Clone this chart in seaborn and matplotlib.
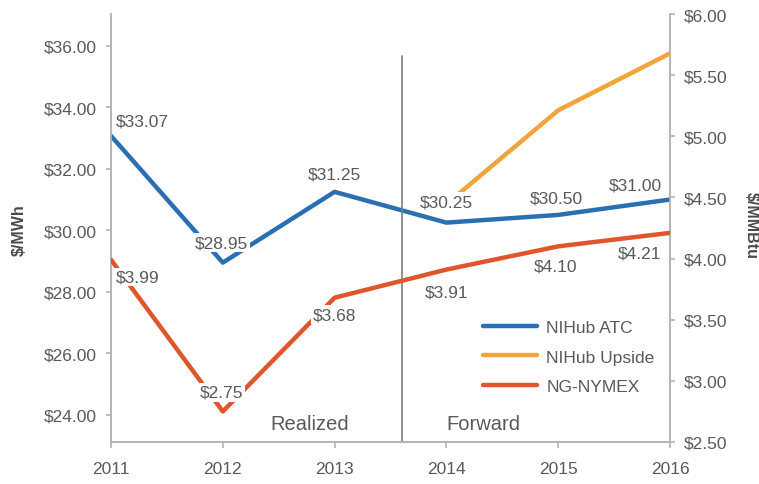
import numpy as np
import pandas as pd
import matplotlib
matplotlib.use("Agg")
import matplotlib.pyplot as plt
from matplotlib.lines import Line2D
import seaborn as sns

# ================================
# DATA
# ================================
years = [2011, 2012, 2013, 2014, 2015, 2016]
atc = [33.07, 28.95, 31.25, 30.25, 30.50, 31.00]
upside_years = [2014, 2015, 2016]
upside = [30.85, 33.90, 35.75]
nymex = [3.99, 2.75, 3.68, 3.91, 4.10, 4.21]

atc_labels = ["$33.07", "$28.95", "$31.25", "$30.25", "$30.50", "$31.00"]
nymex_labels = ["$3.99", "$2.75", "$3.68", "$3.91", "$4.10", "$4.21"]

left_ticks = [24, 26, 28, 30, 32, 34, 36]
right_ticks = [2.5, 3.0, 3.5, 4.0, 4.5, 5.0, 5.5, 6.0]

BLUE = "#2a6fb2"
ORANGE = "#f0a43c"
RED = "#e0552b"
GREY = "#595959"
AXIS = "#b4b4b4"

# ================================
# STYLE
# ================================
sns.set_style("white")
plt.rcParams["font.family"] = ["Liberation Sans", "DejaVu Sans"]
plt.rcParams["font.size"] = 12.5

fig = plt.figure(figsize=(7.59, 4.85), dpi=100)
ax = fig.add_axes([111 / 759, 42 / 485, 559 / 759, 428 / 485])

df_atc = pd.DataFrame({"year": years, "value": atc})
df_up = pd.DataFrame({"year": upside_years, "value": upside})
df_ng = pd.DataFrame({"year": years, "value": nymex})

sns.lineplot(data=df_atc, x="year", y="value", ax=ax, color=BLUE, lw=3.2, zorder=3)
sns.lineplot(data=df_up, x="year", y="value", ax=ax, color=ORANGE, lw=3.2, zorder=2)
ax2 = ax.twinx()
sns.lineplot(data=df_ng, x="year", y="value", ax=ax2, color=RED, lw=3.2, zorder=3)

ax.set_xlim(2011, 2016)
ax.set_ylim(23.12, 37.03)
ax2.set_ylim(2.5, 6.0)

ax.set_xticks(years)
ax.set_xticklabels([str(y) for y in years])
ax.set_yticks(left_ticks)
ax.set_yticklabels([f"${t:.2f}" for t in left_ticks])
ax2.set_yticks(right_ticks)
ax2.set_yticklabels([f"${t:.2f}" for t in right_ticks])

for a in (ax, ax2):
    for s in a.spines.values():
        s.set_color(AXIS)
        s.set_linewidth(1.2)
    a.spines["top"].set_visible(False)
    a.set_xlabel("")
    a.set_ylabel("")
ax.tick_params(axis="x", length=0, labelcolor=GREY, labelsize=12.5, pad=14)
ax.tick_params(axis="y", length=0, labelcolor=GREY, labelsize=12.5, pad=10)
ax2.tick_params(axis="y", length=0, labelcolor=GREY, labelsize=12.5, pad=10)

# small outward tick marks drawn along the spines
tick_kw = dict(color=AXIS, lw=1.2, clip_on=False, zorder=0)
ax.vlines(years, -6 / 428, 0, transform=ax.get_xaxis_transform(), **tick_kw)
ax.hlines(left_ticks, -5 / 559, 0, transform=ax.get_yaxis_transform(), **tick_kw)
ax2.hlines(right_ticks, 1, 1 + 5 / 559, transform=ax2.get_yaxis_transform(), **tick_kw)

# labels with white boxes
bbox = dict(boxstyle="square,pad=0.1", fc="white", ec="none")
atc_off = [(31, 15), (-1, 20), (0, 18), (0, 21), (-2, 17), (-35, 15)]
for x, v, lab, off in zip(years, atc, atc_labels, atc_off):
    ax2.annotate(lab, xy=(x, (v - 23.12) / (37.03 - 23.12) * 3.5 + 2.5),
                 xytext=off, textcoords="offset pixels", ha="center", va="center",
                 color=GREY, fontsize=12.5, bbox=bbox, zorder=5)
ng_off = [(27, -17), (-1, 19), (0, -17), (0, -22), (-3, -20), (-30, -20)]
for x, v, lab, off in zip(years, nymex, nymex_labels, ng_off):
    ax2.annotate(lab, xy=(x, v), xytext=off, textcoords="offset pixels",
                 ha="center", va="center", color=GREY, fontsize=12.5,
                 bbox=bbox, zorder=5)

# realized / forward divider
ax2.plot([2013.6, 2013.6], [2.5, 5.66], color="#7f7f7f", lw=1.2, zorder=1)
ax2.text(2012.78, 2.65, "Realized", ha="center", va="center", color=GREY, fontsize=14.5)
ax2.text(2014.33, 2.65, "Forward", ha="center", va="center", color=GREY, fontsize=14.5)

# axis titles
fig.text(19 / 759, 1 - 230 / 485, "$/MWh", rotation=90, ha="center", va="center",
         fontsize=11.5, fontweight="bold", color="#4a4a4a")
fig.text(751 / 759, 1 - 226 / 485, "$/MMBtu", rotation=270, ha="center", va="center",
         fontsize=11.5, fontweight="bold", color="#4a4a4a")

handles = [Line2D([], [], color=BLUE, lw=3.2),
           Line2D([], [], color=ORANGE, lw=3.2),
           Line2D([], [], color=RED, lw=3.2)]
ax2.legend(handles, ["NIHub ATC", "NIHub Upside", "NG-NYMEX"],
           loc="upper left", bbox_to_anchor=((483 - 111) / 559, (443 - 321) / 428),
           frameon=False, borderpad=0, borderaxespad=0, handlelength=3.1,
           handletextpad=0.55, labelspacing=0.82, fontsize=12.5, labelcolor=GREY)

fig.savefig("out.png", dpi=100)
